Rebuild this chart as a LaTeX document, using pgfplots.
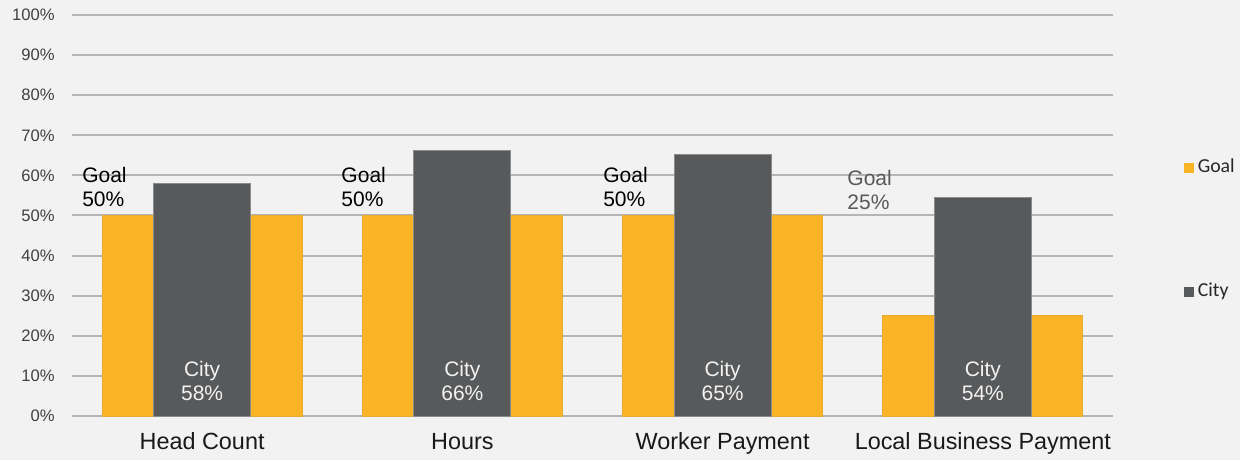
\documentclass[border=0pt]{standalone}
\usepackage{pgfplots}
\pgfplotsset{compat=1.18}
\usepackage{fontspec}
\setmainfont{Liberation Sans}
\newfontfamily\calibri{Carlito}
\definecolor{bg}{HTML}{F2F2F2}
\definecolor{goal}{HTML}{FBB425}
\definecolor{city}{HTML}{58595B}
\definecolor{gridc}{HTML}{B5B5B5}
\definecolor{ticktext}{HTML}{404040}

\begin{document}
\begin{tikzpicture}
\fill[bg] (0,0) rectangle (620pt,230pt);
\begin{axis}[
 at={(36pt,22pt)},anchor=south west,
 scale only axis,width=520.5pt,height=200.5pt,
 xmin=-0.5,xmax=3.5,ymin=0,ymax=100,
 xtick={0,1,2,3},
 xticklabels={Head Count,Hours,Worker Payment,Local Business Payment},
 ytick={0,10,...,100},
 yticklabels={0\%,10\%,20\%,30\%,40\%,50\%,60\%,70\%,80\%,90\%,100\%},
 axis line style={draw=none},
 major tick length=0pt,
 ymajorgrids,grid style={gridc,line width=1pt},
 yticklabel style={font=\fontsize{8.3}{9}\selectfont,text=ticktext,inner sep=0pt,anchor=east,xshift=-8.5pt},
 xticklabel style={font=\fontsize{11.7}{13}\selectfont,text=black!90,inner sep=0pt,anchor=north,yshift=-8.3pt},
 ybar,
 legend style={at={(rel axis cs:1.068,0.465)},anchor=west,draw=none,fill=none,inner sep=0pt,
   row sep=50pt,nodes={inner sep=1.8pt,font=\calibri\fontsize{9.9}{10}\selectfont,text=black!85}},
 legend cell align=left,
 legend image code/.code={\fill[#1,draw=none] (0pt,-2.5pt) rectangle (5pt,2.5pt);},
]
\addplot[fill=goal,draw=goal!85!gray,bar width=100pt,bar shift=0pt] coordinates
 {(0,50) (1,50) (2,50) (3,25)};
\addplot[fill=city,draw=city!70!white,bar width=48.5pt,bar shift=0pt] coordinates
 {(0,58) (1,66.3) (2,65.3) (3,54.5)};
\legend{Goal,City}

\begin{scope}[every node/.style={font=\fontsize{10.5}{12}\selectfont,inner sep=0pt,align=left,anchor=north west}]
\node at (axis cs:-0.462,62.1) {Goal\\50\%};
\node at (axis cs:0.534,62.1) {Goal\\50\%};
\node at (axis cs:1.540,62.1) {Goal\\50\%};
\node[text=black!65] at (axis cs:2.478,61.3) {Goal\\25\%};
\end{scope}
\begin{scope}[every node/.style={font=\fontsize{10.5}{12}\selectfont,inner sep=0pt,align=center,anchor=north,text=white!95!black}]
\node at (axis cs:0,13.7) {City\\58\%};
\node at (axis cs:1,13.7) {City\\66\%};
\node at (axis cs:2,13.7) {City\\65\%};
\node at (axis cs:3,13.7) {City\\54\%};
\end{scope}
\end{axis}
\end{tikzpicture}
\end{document}
